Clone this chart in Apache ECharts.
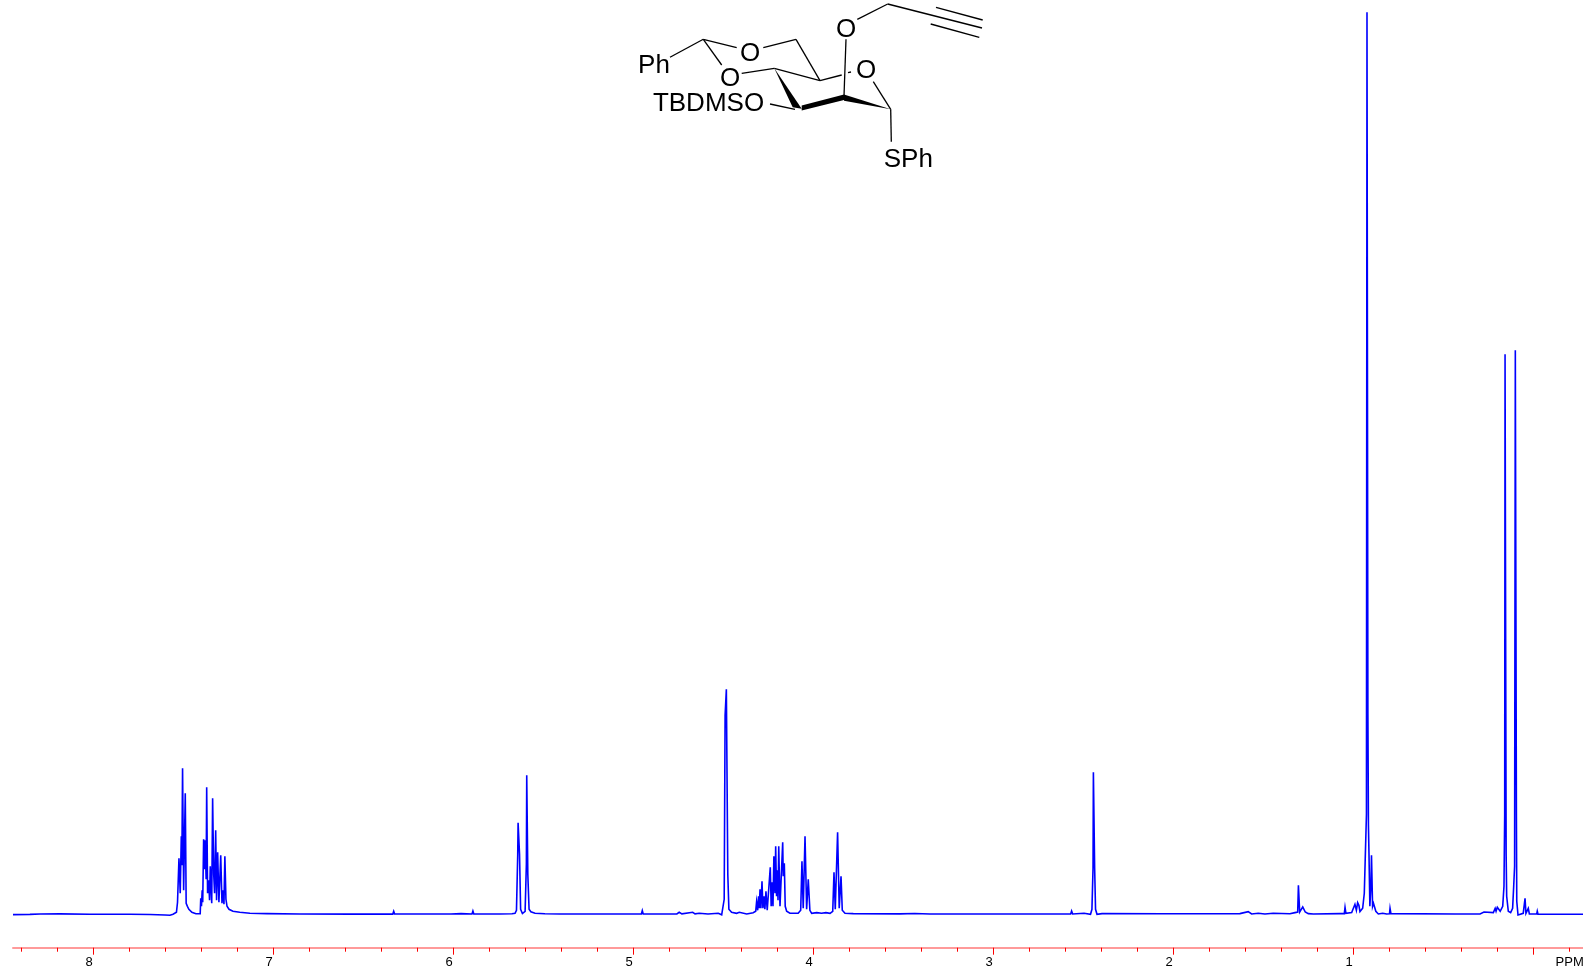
<!DOCTYPE html>
<html>
<head>
<meta charset="utf-8">
<title>1H NMR spectrum</title>
<style>html,body{margin:0;padding:0;background:#fff;overflow:hidden}#c{width:1583px;height:971px}</style>
<script src="https://cdn.jsdelivr.net/npm/echarts@6/dist/echarts.min.js"></script>
</head>
<body>
<div id="c"></div>
<script>
// Chemical shift (ppm) and intensity, region by region
const leftPpm = [8.448,8.354,8.298,8.187,8.021,7.799,7.687,7.604,7.576,7.559,7.548];
const leftInt = [-0.3,-0.1,0.3,0.4,0,0,-0.2,-0.7,-1.0,0,-0.5];

const aromaticPpm = [7.540,7.534,7.526,7.519,7.513,7.510,7.506,7.500,7.491,7.486,7.479,7.471,7.454,7.432,7.408,7.405,7.401,7.397,7.394,7.389,7.385,7.381,7.375,7.372,7.367,7.361,7.356,7.352,7.344,7.339,7.333,7.328,7.322,7.317,7.311,7.304,7.294,7.287,7.282,7.276,7.271,7.265,7.259,7.248,7.226,7.188,7.132,7.037];
const aromaticInt = [2,12,56,21,78,49,146,24,121,11,8,5,2,0.5,0.5,16,8,24,12,75,45,74,35,127,21,34,14,48,11,116,40,21,84,14,62,12,59,11,24,10,58,15,8,5,3,2,1,0.7];

const midPpm = [6.854,6.576,6.338,6.333,6.328,6.015,6.011,6.007,5.959,5.898,5.893,5.888,5.743,5.676,5.665,5.659];
const midInt = [0.3,0.2,0.2,3,0.3,0.3,1,0.3,0.7,0.3,3.3,0.3,0.3,0.5,2.5,1];

const anomericPpm = [5.651,5.644,5.642,5.637,5.634,5.628,5.618,5.603,5.596,5.594,5.591,5.588,5.581,5.571,5.548,5.493,5.410];
const anomericInt = [4,60,91.6,91.6,60,5,0.8,3,50,139,139,40,5,2.5,1,0.5,0.3];

const smallPpm = [4.957,4.952,4.947,4.793,4.783,4.760,4.747,4.732,4.672,4.659,4.636,4.587,4.530,4.511,4.504];
const smallInt = [0.3,3.7,0.3,0.3,1,0.3,2,0.4,2,0.5,1,0.3,1,-0.5,0.5];

const acetalPpm = [4.497,4.492,4.488,4.485,4.482,4.477,4.471,4.456,4.428,4.413,4.372];
const acetalInt = [15,199,199,225,225,40,5,2,1,2,0.3];

const sugarPpm = [4.336,4.322,4.317,4.311,4.306,4.302,4.298,4.293,4.287,4.282,4.276,4.271,4.265,4.258,4.250,4.241,4.236,4.232,4.226,4.221,4.215,4.211,4.206,4.202,4.198,4.194,4.187,4.178,4.172,4.169,4.163,4.158,4.150,4.132,4.086,4.072,4.065,4.058,4.048,4.039,4.030,4.021,4.011,3.983,3.956,3.932,3.909,3.894,3.887,3.880,3.867,3.858,3.848,3.841,3.826,3.780];
const sugarInt = [1.5,3,12.7,4,18,6,25,6,33,6,18,5,23,4,2.7,47,8,32,8,58,21,68,18,44,14,68,8,6,72,38,51,8,3,1,1,4,53,6,78,5,35,4,1,1.7,1,1.7,1,3,42,5,82,6,38,4,1,0.7];

const alkynePpm = [3.521,3.438,3.354,2.965,2.572,2.567,2.561,2.498,2.462,2.454,2.448,2.446,2.443,2.439,2.434,2.426,2.398,2.060];
const alkyneInt = [0.4,0.8,0.3,0.3,0.3,3.3,0.3,1,0,5,46,142,142,46,5,0,0.7,0.5];

const upfieldPpm = [1.632,1.586,1.567,1.530,1.493,1.447,1.354,1.326,1.311,1.307,1.304,1.300,1.291,1.283,1.276,1.269,1.259,1.252,1.224,1.076,1.052,1.048,1.043,1.011,0.993,0.985,0.978,0.971,0.965,0.950,0.941,0.936,0.929];
const upfieldInt = [0.7,2.7,0.3,1,0.3,1,0.5,1.7,2.3,29,29,2.3,5,7.3,6.3,2.3,4,0.7,0.3,0.7,0.7,7,1,1.7,10,4,11.7,9,2.7,6,21,54,100];

const tbuPpm = [0.926,0.923,0.921,0.918,0.915,0.910,0.904,0.901,0.899,0.895,0.890,0.882,0.877,0.863,0.839,0.817,0.801,0.798,0.793,0.437,0.298,0.276,0.267];
const tbuInt = [902,902,200,89,61,8,30,59,59,8,11,13,3,0.3,1,0.3,0.5,6,0.7,0.3,0.3,2.3,0.7];

const silylPpm = [0.224,0.214,0.209,0.202,0.197,0.191,0.186,0.172,0.165,0.161,0.159,0.156,0.153,0.150,0.141,0.128,0.117,0.111,0.106,0.102,0.098,0.096,0.094,0.087,0.076,0.058,0.050,0.048,0.046,0.043,0.037,0.030,0.024,-0.017,-0.020,-0.024,-0.274];
const silylInt = [1.7,6,3,7,5,7,3,8,28,100,560,560,60,18,3,1.7,6,28,48,564,564,100,13,-0.7,0,1,1,16,16,1,2.7,6,0.3,0.3,3,0,0];

const ppm = [].concat(leftPpm,aromaticPpm,midPpm,anomericPpm,smallPpm,acetalPpm,sugarPpm,alkynePpm,upfieldPpm,tbuPpm,silylPpm);
const intensity = [].concat(leftInt,aromaticInt,midInt,anomericInt,smallInt,acetalInt,sugarInt,alkyneInt,upfieldInt,tbuInt,silylInt);

// Axis ticks and labels
const majorTicks = [8,7,6,5,4,3,2,1,0];
const minorTicks = [8.4,8.2,7.8,7.6,7.4,7.2,6.8,6.6,6.4,6.2,5.8,5.6,5.4,5.2,4.8,4.6,4.4,4.2,3.8,3.6,3.4,3.2,2.8,2.6,2.4,2.2,1.8,1.6,1.4,1.2,0.8,0.6,0.4,0.2,-0.2];
const labelTicks = [8,7,6,5,4,3,2,1,-0.225];

// Structure drawing (annotation, in page pixels)
const bonds = [
  [857.3,19.3,887.7,4],[887.7,4,982,28],[936,7.3,982.7,20],[930.7,24,979.3,37.3],
  [846,39.3,844,96],[770,104,795,109.3],[774.3,68.3,820,80.7],[820,80.7,841.7,75],
  [848,72.7,851,72],[873.3,81.7,890.7,109.3],[890.7,109.3,891.3,141.7],[820,80.7,796,39.3],
  [796,39.3,763.3,47.7],[736.7,47.7,703.3,39.3],[703.3,39.3,670,57.3],[703.3,39.3,721.7,65],
  [741.7,73.3,774.3,68.3]
];
const solidBonds = [
  [[844,94.5],[801.7,105.5],[801.7,110.5],[844,100]],
  [[890.7,109.3],[844,94.5],[844,100.7]],
  [[774.3,68.3],[792.7,107.3],[801.7,108.8]]
];
const atoms = [
  ['O',846,29.8],['O',866,71.3],['O',750,53.8],['O',730,78.8],
  ['Ph',654,66],['TBDMSO',708.5,103.5],['SPh',908.3,159.5]
];

const graphic = [];
bonds.forEach(b => graphic.push({type:'line',silent:true,shape:{x1:b[0],y1:b[1],x2:b[2],y2:b[3]},style:{stroke:'#000',lineWidth:1.3}}));
solidBonds.forEach(p => graphic.push({type:'polygon',silent:true,shape:{points:p},style:{fill:'#000'}}));
atoms.forEach(a => graphic.push({type:'text',silent:true,x:a[1],y:a[2],style:{text:a[0],fill:'#000',font:'26px "Liberation Sans", Arial, sans-serif',textAlign:'center',textVerticalAlign:'middle'}}));

const chart = echarts.init(document.getElementById('c'), null, {renderer:'canvas'});
chart.setOption({
  animation:false,
  backgroundColor:'#fff',
  grid:{left:13,right:0,top:0,bottom:23.3,outerBoundsMode:'none'},
  xAxis:[
    {type:'value',inverse:true,min:-0.274,max:8.448,position:'bottom',splitLine:{show:false},
     axisLine:{show:true,onZero:false,lineStyle:{color:'#ff9a9a',width:2}},
     axisTick:{show:true,customValues:majorTicks,length:7,lineStyle:{color:'#ff0000',width:1}},
     axisLabel:{show:true,customValues:labelTicks,margin:8,padding:[0,9,0,0],color:'#000',fontFamily:'"Liberation Sans", Arial, sans-serif',fontSize:13,
       formatter:v => (v < 0 ? 'PPM' : String(v))}},
    {type:'value',inverse:true,min:-0.274,max:8.448,position:'bottom',splitLine:{show:false},
     axisLine:{show:false,onZero:false},
     axisTick:{show:true,customValues:minorTicks,length:4,lineStyle:{color:'#ff0000',width:1}},
     axisLabel:{show:false}}
  ],
  yAxis:{type:'value',show:false,min:-33.4,max:914.3,splitLine:{show:false}},
  series:[{type:'line',xAxisIndex:0,data:ppm.map((p,i)=>[p,intensity[i]]),showSymbol:false,symbol:'none',silent:true,
    lineStyle:{color:'#0000ff',width:1.6,join:'miter'},itemStyle:{color:'#0000ff'}}],
  graphic:graphic
});
</script>
</body>
</html>
